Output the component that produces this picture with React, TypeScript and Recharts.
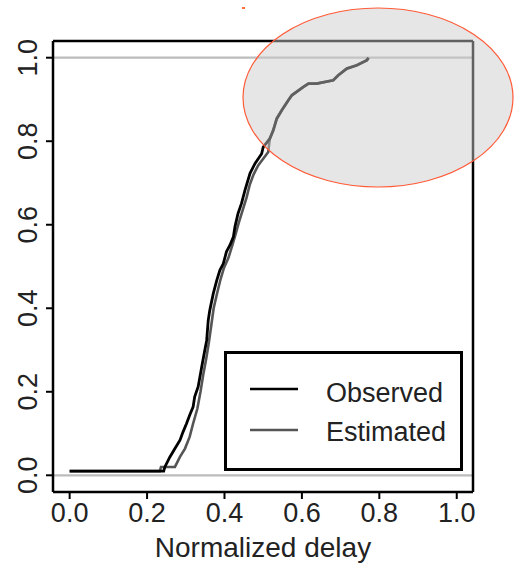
import { LineChart, Line, XAxis, YAxis, ReferenceLine } from "recharts";

// ECDF of normalized delay.
const obsX = [
  0, 0.243, 0.246, 0.259, 0.272, 0.285, 0.293, 0.302, 0.31, 0.319, 0.323, 0.332,
  0.341, 0.349, 0.354, 0.358, 0.362, 0.371, 0.38, 0.388, 0.397, 0.405, 0.414,
  0.423, 0.427, 0.435, 0.444, 0.453, 0.466, 0.479, 0.496, 0.5, 0.517, 0.526,
  0.535, 0.548, 0.565, 0.574, 0.604, 0.617, 0.638, 0.681, 0.694, 0.716, 0.742,
  0.768, 0.772,
];
const obsY = [
  0.01, 0.01, 0.02, 0.044, 0.064, 0.084, 0.104, 0.124, 0.144, 0.164, 0.188, 0.212,
  0.259, 0.299, 0.323, 0.371, 0.395, 0.435, 0.467, 0.491, 0.507, 0.535, 0.551,
  0.571, 0.595, 0.627, 0.651, 0.683, 0.723, 0.747, 0.77, 0.786, 0.806, 0.826,
  0.854, 0.874, 0.898, 0.91, 0.93, 0.938, 0.938, 0.946, 0.958, 0.974, 0.982,
  0.994, 1.0,
];

const estX = [
  0, 0.233, 0.236, 0.272, 0.285, 0.298, 0.31, 0.319, 0.33, 0.338, 0.345, 0.353,
  0.36, 0.366, 0.372, 0.382, 0.39, 0.398, 0.41, 0.42, 0.428, 0.437, 0.447, 0.457,
  0.465, 0.475, 0.487, 0.5, 0.513, 0.517, 0.526, 0.535, 0.548, 0.565, 0.574,
  0.604, 0.617, 0.638, 0.681, 0.694, 0.716, 0.742, 0.768, 0.772,
];
const estY = [
  0.01, 0.01, 0.02, 0.02, 0.044, 0.064, 0.092, 0.124, 0.16, 0.2, 0.24, 0.28, 0.32,
  0.36, 0.4, 0.44, 0.47, 0.495, 0.52, 0.55, 0.575, 0.605, 0.635, 0.665, 0.695,
  0.72, 0.742, 0.758, 0.774, 0.806, 0.826, 0.854, 0.874, 0.898, 0.91, 0.93, 0.938,
  0.938, 0.946, 0.958, 0.974, 0.982, 0.994, 1.0,
];

const tickVals = [0, 0.2, 0.4, 0.6, 0.8, 1.0];
const seriesNames = ["Observed", "Estimated"];

const observed = obsX.map((x, i) => ({ x, y: obsY[i] }));
const estimated = estX.map((x, i) => ({ x, y: estY[i] }));

const FONT = '"Liberation Sans", Arial, sans-serif';
const xDomain: [number, number] = [-0.043, 1.042];
const yDomain: [number, number] = [-0.04, 1.04];

const XTick = (p: any) => (
  <text x={p.x} y={p.y + 21} textAnchor="middle" fontSize={27} fill="#222">
    {Number(p.payload.value).toFixed(1)}
  </text>
);

const YTick = (p: any) => {
  const cx = p.x - 16;
  return (
    <text
      x={cx}
      y={p.y}
      transform={`rotate(-90 ${cx} ${p.y})`}
      textAnchor="middle"
      dominantBaseline="central"
      fontSize={27}
      fill="#222"
    >
      {Number(p.payload.value).toFixed(1)}
    </text>
  );
};

export default function App() {
  return (
    <div style={{ position: "absolute", left: 0, top: 0, width: 514, height: 565, fontFamily: FONT, background: "#fff" }}>
      <LineChart width={514} height={565} margin={{ top: 40, right: 40, bottom: 0, left: 0 }}>
        <XAxis
          dataKey="x"
          type="number"
          domain={xDomain}
          ticks={tickVals}
          interval={0}
          height={73}
          tickSize={7}
          tickLine={{ stroke: "#000", strokeWidth: 2 }}
          axisLine={{ stroke: "#000", strokeWidth: 2.5 }}
          tick={XTick}
          label={{ value: "Normalized delay", position: "insideBottom", offset: 8, fontSize: 28, fill: "#222" }}
        />
        {/* top and right axes only close the box */}
        <XAxis
          xAxisId="top"
          orientation="top"
          type="number"
          domain={xDomain}
          height={1}
          tick={false}
          tickLine={false}
          axisLine={{ stroke: "#000", strokeWidth: 2.5 }}
        />
        <YAxis
          type="number"
          domain={yDomain}
          ticks={tickVals}
          interval={0}
          width={53}
          tickSize={7}
          tickLine={{ stroke: "#000", strokeWidth: 2 }}
          axisLine={{ stroke: "#000", strokeWidth: 2.5 }}
          tick={YTick}
        />
        <YAxis
          yAxisId="right"
          orientation="right"
          type="number"
          domain={yDomain}
          width={1}
          tick={false}
          tickLine={false}
          axisLine={{ stroke: "#000", strokeWidth: 2.5 }}
        />
        <ReferenceLine y={0} stroke="#bcbcbc" strokeWidth={2.2} />
        <ReferenceLine y={1} stroke="#bcbcbc" strokeWidth={2.2} />
        <Line
          data={estimated}
          dataKey="y"
          name={seriesNames[1]}
          type="linear"
          stroke="#555"
          strokeWidth={2.6}
          dot={false}
          isAnimationActive={false}
        />
        <Line
          data={observed}
          dataKey="y"
          name={seriesNames[0]}
          type="linear"
          stroke="#000"
          strokeWidth={2.8}
          dot={false}
          isAnimationActive={false}
        />
      </LineChart>
      <svg
        width={514}
        height={565}
        style={{ position: "absolute", left: 0, top: 0, pointerEvents: "none" }}
      >
        <rect x={225.5} y={352.5} width={236} height={117} fill="#fff" stroke="#000" strokeWidth={3} />
        <line x1={250} x2={298} y1={389} y2={389} stroke="#000" strokeWidth={2.5} />
        <line x1={250} x2={298} y1={430} y2={430} stroke="#555" strokeWidth={2.5} />
        <text x={326} y={402} fontSize={27} fill="#222" fontFamily={FONT}>{seriesNames[0]}</text>
        <text x={326} y={441} fontSize={27} fill="#222" fontFamily={FONT}>{seriesNames[1]}</text>
        <ellipse
          cx={378}
          cy={97.5}
          rx={135}
          ry={89.5}
          fill="rgb(202,202,202)"
          fillOpacity={0.475}
          stroke="#ff5a36"
          strokeWidth={1.2}
        />
        <rect x={242} y={7} width={3} height={2} fill="#ff6a3d" />
      </svg>
    </div>
  );
}
